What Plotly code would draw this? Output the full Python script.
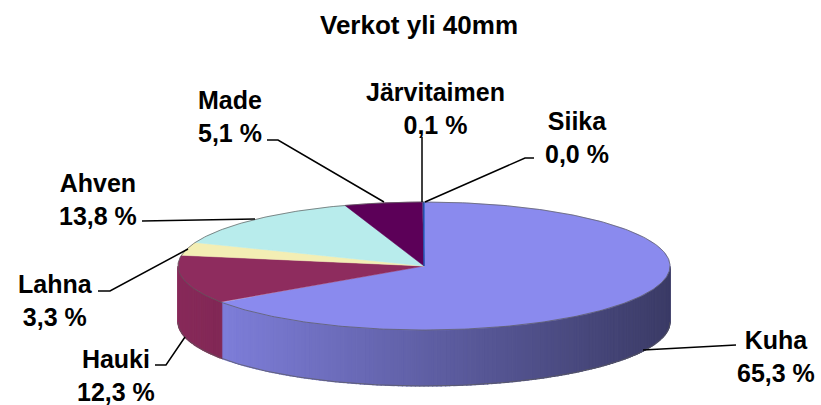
import numpy as np
import plotly.graph_objects as go

# ---- data ----
labels = ["Kuha", "Hauki", "Lahna", "Ahven", "Made", "Järvitaimen", "Siika"]
values = [65.3, 12.3, 3.3, 13.8, 5.1, 0.1, 0.0]
title_text = "Verkot yli 40mm"

# ---- style ----
top_colors = ["#8A8AEE", "#8E2C5E", "#F3EEB4", "#B8ECEC", "#5C0058", "#4A3A80", "#0066CC"]
base_rgb = [tuple(int(c[i:i + 2], 16) for i in (1, 3, 5)) for c in top_colors]
CX, CY, RX, RY, DEPTH = 424, 266, 246, 64, 56
FONT = "Liberation Sans, Arial, sans-serif"

# label text positions (centre) and leader lines (layout only)
label_pos = {
    "Kuha": (776, 356), "Hauki": (116, 375), "Lahna": (55, 300), "Ahven": (98, 199),
    "Made": (230, 116), "Järvitaimen": (435, 108), "Siika": (577, 137),
}
leaders = {
    "Kuha": [(736, 345), (643, 350)],
    "Hauki": [(155, 365), (166, 365), (185, 337)],
    "Lahna": [(98, 291), (110, 291), (188, 249)],
    "Ahven": [(142, 221), (255, 219)],
    "Made": [(267, 140), (278, 140), (384, 202)],
    "Järvitaimen": [(422, 137), (422, 202)],
    "Siika": [(534, 158), (525, 158), (425, 202)],
}


def pt(theta, dy=0.0):
    t = np.radians(theta)
    return CX + RX * np.sin(t), CY - RY * np.cos(t) + dy


total = sum(values)
bounds = np.concatenate([[0], np.cumsum(values) / total * 360.0])

fig = go.Figure()

# ---- side wall (front half, 90..270 deg) ----
for i, v in enumerate(values):
    a0, a1 = max(bounds[i], 90.0), min(bounds[i + 1], 270.0)
    if a1 <= a0:
        continue
    steps = np.arange(a0, a1, 1.0).tolist() + [a1]
    for s0, s1 in zip(steps[:-1], steps[1:]):
        th = np.linspace(s0, s1, 4)
        xt, yt = pt(th)
        xb, yb = pt(th[::-1], DEPTH)
        xm = xt.mean()
        f = 0.96 - (xm - (CX - RX)) / (2 * RX) * 0.53
        r, g, b = [int(max(0, min(255, c * f))) for c in base_rgb[i]]
        col = f"rgb({r},{g},{b})"
        fig.add_trace(go.Scatter(
            x=np.concatenate([xt, xb, xt[:1]]), y=np.concatenate([yt, yb, yt[:1]]),
            fill="toself", fillcolor=col, mode="lines", line=dict(color=col, width=1.2),
            hoverinfo="skip", showlegend=False))

# side outlines
th = np.linspace(90, 270, 200)
xb, yb = pt(th, DEPTH)
fig.add_trace(go.Scatter(x=xb, y=yb, mode="lines", line=dict(color="rgba(90,90,90,0.7)", width=1),
                         hoverinfo="skip", showlegend=False))

# ---- top face slices ----
for i, v in enumerate(values):
    a0, a1 = bounds[i], bounds[i + 1]
    n = max(2, int((a1 - a0) * 2))
    th = np.linspace(a0, a1, n)
    xs, ys = pt(th)
    fig.add_trace(go.Scatter(
        x=np.concatenate([[CX], xs, [CX]]), y=np.concatenate([[CY], ys, [CY]]),
        fill="toself", fillcolor=top_colors[i], mode="lines",
        line=dict(color=top_colors[i], width=0.5),
        hoverinfo="skip", showlegend=False, name=labels[i]))

th = np.linspace(0, 360, 400)
xs, ys = pt(th)
fig.add_trace(go.Scatter(x=xs, y=ys, mode="lines", line=dict(color="rgba(90,90,90,0.7)", width=1),
                         hoverinfo="skip", showlegend=False))

# ---- labels and leader lines ----
for name, v in zip(labels, values):
    txt = f"{v:.1f}".replace(".", ",") + " %"
    x, y = label_pos[name]
    fig.add_annotation(x=x, y=y, xref="x", yref="y", showarrow=False,
                       text=f"<b>{name}</b><br><b>{txt}</b>", align="center",
                       font=dict(family=FONT, size=25, color="black"),
                       xanchor="center", yanchor="middle")
    pts = leaders[name]
    path = "M " + " L ".join(f"{px},{py}" for px, py in pts)
    fig.add_shape(type="path", path=path, xref="x", yref="y",
                  line=dict(color="black", width=1.5))

fig.update_layout(
    width=821, height=405,
    margin=dict(l=0, r=0, t=0, b=0),
    paper_bgcolor="white", plot_bgcolor="white",
    title=dict(text=f"<b>{title_text}</b>", x=419 / 821, xanchor="center",
               y=1 - 25 / 405, yanchor="middle",
               font=dict(family=FONT, size=26, color="black")),
    xaxis=dict(range=[0, 821], visible=False, fixedrange=True),
    yaxis=dict(range=[405, 0], visible=False, fixedrange=True),
    showlegend=False,
)

fig.write_html("out.html", config={"displayModeBar": False},
               post_script="document.body.style.margin='0';")
